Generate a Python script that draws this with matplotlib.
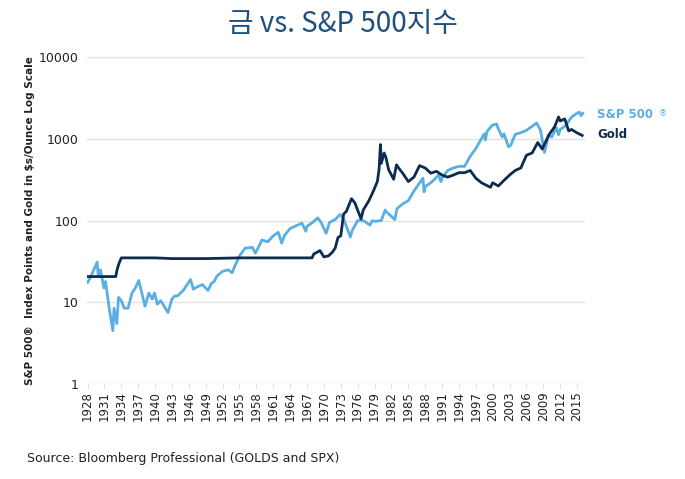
import matplotlib.pyplot as plt
import numpy as np

# gold price, $/oz (year, value)
gold_years = [1928.0, 1933.0, 1933.3, 1933.6, 1934.0, 1940.0, 1943.0, 1949.0, 1955.0, 1967.9,
              1968.2, 1968.8, 1969.3, 1970.0, 1970.8, 1971.5, 1972.0, 1972.5, 1973.0, 1973.5,
              1974.0, 1974.9, 1975.5, 1976.6, 1977.0, 1978.0, 1978.8, 1979.5, 1979.8, 1980.05,
              1980.2, 1980.7, 1981.0, 1981.5, 1982.4, 1982.9, 1983.5, 1984.0, 1985.0, 1986.0,
              1987.0, 1988.0, 1989.0, 1990.0, 1991.0, 1992.0, 1993.0, 1994.0, 1995.0, 1996.0,
              1997.0, 1998.0, 1999.6, 2000.0, 2001.0, 2002.0, 2003.0, 2004.0, 2005.0, 2006.0,
              2007.0, 2008.0, 2008.8, 2009.5, 2010.0, 2011.0, 2011.7, 2012.0, 2012.8, 2013.5,
              2014.0, 2015.0, 2015.9]
gold_vals = [20.67, 20.67, 26, 30, 35, 35, 34.3, 34.3, 35, 35,
             39, 41, 43, 36, 37, 41, 46, 62, 65, 120,
             130, 185, 165, 105, 135, 175, 230, 300, 420, 850,
             500, 670, 600, 420, 320, 480, 420, 380, 300, 340,
             470, 440, 380, 400, 360, 340, 360, 385, 385, 410,
             330, 290, 255, 290, 265, 310, 360, 410, 440, 630,
             670, 900, 750, 950, 1120, 1400, 1850, 1650, 1750, 1250,
             1300, 1180, 1100]

# S&P 500 index points (year, value)
spx_years = [1928.0, 1928.5, 1929.0, 1929.7, 1929.9, 1930.3, 1930.9, 1931.2, 1931.9, 1932.5,
             1932.7, 1933.2, 1933.5, 1934.0, 1934.5, 1935.2, 1935.9, 1936.5, 1937.1, 1937.9,
             1938.2, 1938.9, 1939.5, 1939.9, 1940.4, 1941.0, 1942.3, 1943.0, 1943.5, 1944.0,
             1945.0, 1946.3, 1946.8, 1947.5, 1948.4, 1949.4, 1950.0, 1950.5, 1951.0, 1952.0,
             1953.0, 1953.7, 1954.0, 1955.0, 1956.0, 1957.3, 1957.8, 1958.0, 1959.0, 1960.0,
             1961.0, 1961.9, 1962.5, 1963.0, 1964.0, 1965.0, 1966.1, 1966.8, 1967.0, 1968.0,
             1968.9, 1969.5, 1970.4, 1971.0, 1972.0, 1972.9, 1973.5, 1974.7, 1975.0, 1976.0,
             1977.0, 1978.2, 1978.6, 1979.0, 1980.2, 1980.9, 1981.0, 1982.6, 1983.0, 1984.0,
             1985.0, 1986.0, 1987.6, 1987.8, 1988.0, 1989.0, 1990.4, 1990.8, 1991.0, 1992.0,
             1993.0, 1994.0, 1995.0, 1996.0, 1997.0, 1998.5, 1998.7, 1999.0, 1999.9, 2000.7,
             2001.0, 2001.7, 2002.0, 2002.8, 2003.2, 2004.0, 2005.0, 2006.0, 2007.0, 2007.8,
             2008.5, 2009.2, 2009.9, 2010.5, 2011.3, 2011.7, 2012.0, 2013.0, 2014.0, 2015.0,
             2015.4, 2015.7, 2016.0]
spx_vals = [17.5, 20, 24, 31, 21, 25, 15, 18, 8, 4.5,
            8.5, 5.5, 11.5, 10.5, 8.5, 8.5, 13, 15, 18.5, 11,
            9, 13, 11, 13, 9.5, 10.5, 7.5, 11, 12, 12,
            14, 19, 14.5, 15.5, 16.5, 14, 17, 18, 21, 24,
            25, 23, 26, 37, 46, 47, 40, 42, 58, 55,
            65, 72, 53, 66, 80, 86, 93, 74, 85, 95,
            108, 95, 70, 95, 103, 119, 105, 63, 75, 100,
            100, 88, 100, 98, 100, 135, 130, 103, 140, 160,
            175, 230, 330, 225, 260, 290, 360, 300, 330, 410,
            440, 460, 460, 610, 760, 1150, 970, 1230, 1460, 1520,
            1320, 1050, 1150, 800, 830, 1130, 1190, 1270, 1420, 1560,
            1270, 680, 1100, 1050, 1360, 1120, 1300, 1460, 1840, 2060,
            2120, 1920, 2050]

tick_years = list(range(1928, 2016, 3))

spx_color = '#5aafe2'
gold_color = '#0e2b50'
text_color = '#222222'

fig = plt.figure(figsize=(6.85, 4.79), dpi=100)
ax = fig.add_axes([0.127, 0.198, 0.727, 0.683])

ax.plot(spx_years, spx_vals, color=spx_color, lw=2.0)
ax.plot(gold_years, gold_vals, color=gold_color, lw=2.0)

ax.set_yscale('log')
ax.set_ylim(1, 10000)
ax.set_xlim(1927.9, 2016.4)
ax.set_yticks([1, 10, 100, 1000, 10000])
ax.set_yticklabels(['1', '10', '100', '1000', '10000'])
ax.minorticks_off()
ax.set_xticks(tick_years)
ax.set_xticklabels([str(y) for y in tick_years], rotation=90)
ax.grid(axis='y', color='#e3e3e3', lw=1.0)
ax.set_axisbelow(True)
for s in ax.spines.values():
    s.set_visible(False)
ax.tick_params(axis='y', length=0, labelsize=9, colors=text_color, pad=6)
ax.tick_params(axis='x', length=3, color='#dddddd', labelsize=8.5, labelcolor=text_color, pad=2)

ax.set_ylabel('S&P 500®  Index Points and Gold in $s/Ounce Log Scale', fontsize=7.5,
              fontweight='bold', color=text_color, labelpad=3)

fig.text(0.5, 0.95, '금 vs. S&P 500지수', ha='center', va='center', fontsize=20,
         color='#1f4f7d', family=['Noto Sans CJK KR', 'DejaVu Sans'])
fig.text(0.872, 0.76, 'S&P 500', fontsize=8.5, fontweight='bold', color=spx_color, va='center')
fig.text(0.962, 0.763, '®', fontsize=6, color=spx_color, va='center')
fig.text(0.872, 0.72, 'Gold', fontsize=8.5, fontweight='bold', color=gold_color, va='center')
fig.text(0.04, 0.043, 'Source: Bloomberg Professional (GOLDS and SPX)', fontsize=9,
         color=text_color, va='center')

fig.savefig('out.png', dpi=100)
